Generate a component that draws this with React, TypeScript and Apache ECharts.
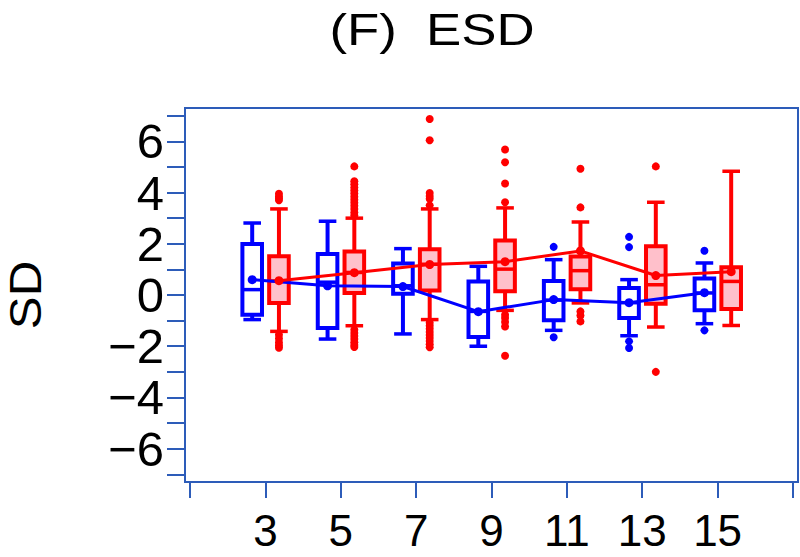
import React, { useEffect, useRef } from "react";
import * as echarts from "echarts";

// ---- data ----
const groups = [3, 5, 7, 9, 11, 13, 15];

const blueMin = [-0.96, -1.72, -1.52, -2.0, -1.38, -1.59, -1.12];
const blueQ1 = [-0.77, -1.29, 0.05, -1.64, -0.99, -0.9, -0.6];
const blueMedian = [0.21, 0.5, 0.36, -0.64, -0.2, -0.3, 0.08];
const blueQ3 = [1.99, 1.6, 1.23, 0.53, 0.55, 0.27, 0.64];
const blueMax = [2.81, 2.88, 1.81, 1.12, 1.38, 0.6, 1.25];
const blueMean = [0.6, 0.36, 0.33, -0.65, -0.18, -0.3, 0.09];
const blueOutliers = [[], [], [], [], [1.88, -1.65], [2.27, 1.87, -1.81, -2.07], [1.73, -1.38]];

const redMin = [-1.42, -1.2, -0.96, -0.6, -0.31, -1.25, -1.19];
const redQ1 = [-0.31, 0.08, 0.18, 0.15, 0.22, -0.34, -0.55];
const redMedian = [0.55, 0.88, 1.2, 1.01, 0.95, 0.4, 0.53];
const redQ3 = [1.51, 1.7, 1.79, 2.13, 1.5, 1.9, 1.08];
const redMax = [3.36, 3.0, 3.36, 3.4, 2.85, 3.62, 4.83];
const redMean = [0.56, 0.87, 1.19, 1.3, 1.72, 0.76, 0.91];
const redOutliers = [
  [3.95, 3.85, 3.78, 3.7, -1.55, -1.7, -1.85, -1.97, -2.06],
  [5.02, 4.44, 4.32, 4.2, 4.08, 3.96, 3.84, 3.72, 3.6, 3.48, 3.36, 3.22, 3.1, -1.36, -1.48, -1.6, -1.72, -1.84, -1.95, -2.03],
  [6.87, 6.04, 3.98, 3.86, 3.76, 3.5, -1.08, -1.2, -1.32, -1.44, -1.56, -1.68, -1.8, -1.92, -2.04],
  [5.68, 5.18, 4.35, 3.62, -0.77, -0.9, -1.05, -1.23, -2.37],
  [4.93, 3.42, -0.64, -0.8, -1.03],
  [5.02, -3.0],
  [],
];

const xTicks = [1, 3, 5, 7, 9, 11, 13, 15, 17];
const xLabels = [3, 5, 7, 9, 11, 13, 15];
const yTicks = [-7, -6, -5, -4, -3, -2, -1, 0, 1, 2, 3, 4, 5, 6, 7];
const yLabels = [-6, -4, -2, 0, 2, 4, 6];

// ---- styling ----
const BLUE = "#0000ff";
const RED = "#ff0000";
const PINK = "#ffc0cb";
const AXIS = "#2d5cb9";
const FONT = "'Liberation Sans', Arial, Helvetica, sans-serif";
const BLUE_OFF = -0.35;
const RED_OFF = 0.36;
const BOX_W = 0.52;

function boxData(off: number, mn: number[], q1: number[], md: number[], q3: number[], mx: number[]) {
  return groups.map((g, i) => [g + off, mn[i], q1[i], md[i], q3[i], mx[i]]);
}
function meanData(off: number, m: number[]) {
  return groups.map((g, i) => [g + off, m[i]]);
}
function outlierData(off: number, o: number[][]) {
  const out: number[][] = [];
  groups.forEach((g, i) => o[i].forEach((v) => out.push([g + off, v])));
  return out;
}

function makeRender(color: string, fill: string) {
  return (params: any, api: any) => {
    const x = api.value(0);
    const pLow = api.coord([x, api.value(1)]);
    const pQ1 = api.coord([x, api.value(2)]);
    const pMed = api.coord([x, api.value(3)]);
    const pQ3 = api.coord([x, api.value(4)]);
    const pHigh = api.coord([x, api.value(5)]);
    const w = api.size([BOX_W, 0])[0];
    const cx = pLow[0];
    const line = (x1: number, y1: number, x2: number, y2: number, lw: number) => ({
      type: "line",
      shape: { x1, y1, x2, y2 },
      style: { stroke: color, lineWidth: lw, fill: null },
    });
    return {
      type: "group",
      children: [
        line(cx, pLow[1], cx, pQ1[1], 4),
        line(cx, pQ3[1], cx, pHigh[1], 4),
        line(cx - w / 2 + 1, pLow[1], cx + w / 2 - 1, pLow[1], 3.5),
        line(cx - w / 2 + 1, pHigh[1], cx + w / 2 - 1, pHigh[1], 3.5),
        {
          type: "rect",
          shape: { x: cx - w / 2, y: pQ3[1], width: w, height: pQ1[1] - pQ3[1] },
          style: { fill, stroke: color, lineWidth: 4 },
        },
        line(cx - w / 2, pMed[1], cx + w / 2, pMed[1], 3.5),
      ],
    };
  };
}

export default function App() {
  const ref = useRef<HTMLDivElement>(null);
  useEffect(() => {
    if (!ref.current) return;
    const chart = echarts.init(ref.current, null, { renderer: "svg" });
    const option: any = {
      animation: false,
      backgroundColor: "#ffffff",
      grid: {
        left: 185,
        top: 108,
        right: 2,
        bottom: 75,
        show: true,
        borderColor: AXIS,
        borderWidth: 2,
        backgroundColor: "transparent",
        containLabel: false,
        outerBoundsMode: "none",
      },
      graphic: [
        {
          type: "text",
          x: 432,
          y: 30,
          scaleX: 1.2,
          style: {
            text: "(F)  ESD",
            font: `44px ${FONT}`,
            lineHeight: 44,
            fill: "#000",
            textAlign: "center",
            textVerticalAlign: "middle",
          },
        },
        {
          type: "text",
          x: 26,
          y: 295,
          rotation: Math.PI / 2,
          scaleX: 1.12,
          style: {
            text: "SD",
            font: `44px ${FONT}`,
            lineHeight: 44,
            fill: "#000",
            textAlign: "center",
            textVerticalAlign: "middle",
          },
        },
      ],
      xAxis: {
        type: "value",
        min: 0.867,
        max: 17.133,
        splitLine: { show: false },
        axisLine: { show: true, onZero: false, lineStyle: { color: AXIS, width: 2 } },
        axisTick: { show: true, length: 16, customValues: xTicks, lineStyle: { color: AXIS, width: 2 } },
        axisLabel: {
          customValues: xLabels,
          margin: 26,
          fontSize: 44,
          lineHeight: 44,
          fontFamily: FONT,
          color: "#000",
          showMinLabel: true,
          showMaxLabel: true,
        },
      },
      yAxis: {
        type: "value",
        min: -7.3,
        max: 7.3,
        splitLine: { show: false },
        axisLine: { show: true, onZero: false, lineStyle: { color: AXIS, width: 2 } },
        axisTick: { show: true, length: 18, customValues: yTicks, lineStyle: { color: AXIS, width: 2 } },
        axisLabel: {
          customValues: yLabels,
          margin: 21,
          fontSize: 49,
          lineHeight: 40,
          fontFamily: FONT,
          color: "#000",
          formatter: (v: number) => (v < 0 ? "\u2212" + Math.abs(v) : String(v)),
        },
      },
      series: [
        {
          type: "custom",
          name: "blue box",
          renderItem: makeRender(BLUE, "#ffffff"),
          encode: { x: 0, y: [1, 2, 3, 4, 5] },
          data: boxData(BLUE_OFF, blueMin, blueQ1, blueMedian, blueQ3, blueMax),
          z: 2,
        },
        {
          type: "custom",
          name: "red box",
          renderItem: makeRender(RED, PINK),
          encode: { x: 0, y: [1, 2, 3, 4, 5] },
          data: boxData(RED_OFF, redMin, redQ1, redMedian, redQ3, redMax),
          z: 2,
        },
        {
          type: "scatter",
          name: "blue outliers",
          data: outlierData(BLUE_OFF, blueOutliers),
          symbol: "circle",
          symbolSize: 8,
          itemStyle: { color: BLUE, opacity: 1 },
          z: 3,
        },
        {
          type: "scatter",
          name: "red outliers",
          data: outlierData(RED_OFF, redOutliers),
          symbol: "circle",
          symbolSize: 8,
          itemStyle: { color: RED, opacity: 1 },
          z: 3,
        },
        {
          type: "line",
          name: "blue mean",
          data: meanData(BLUE_OFF, blueMean),
          symbol: "circle",
          symbolSize: 9,
          showAllSymbol: true,
          lineStyle: { color: BLUE, width: 3 },
          itemStyle: { color: BLUE, opacity: 1 },
          z: 4,
        },
        {
          type: "line",
          name: "red mean",
          data: meanData(RED_OFF, redMean),
          symbol: "circle",
          symbolSize: 9,
          showAllSymbol: true,
          lineStyle: { color: RED, width: 3 },
          itemStyle: { color: RED, opacity: 1 },
          z: 4,
        },
      ],
    };
    chart.setOption(option);
    return () => chart.dispose();
  }, []);
  return (
    <div
      ref={ref}
      style={{ position: "fixed", left: 0, top: 0, width: 800, height: 557, background: "#fff" }}
    />
  );
}
